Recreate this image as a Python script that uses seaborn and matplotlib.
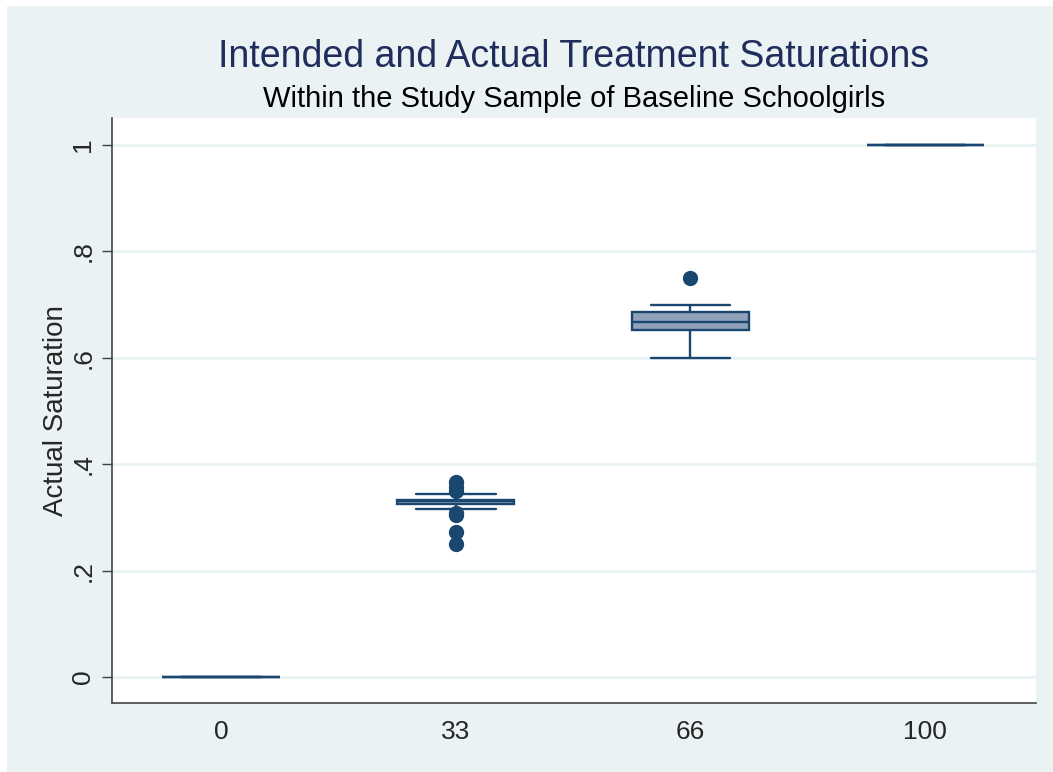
import numpy as np
import pandas as pd
import matplotlib
matplotlib.use("Agg")
import matplotlib.pyplot as plt
from matplotlib.patches import Rectangle
import seaborn as sns

# ==========================================
# data: actual saturation by intended saturation group
# ==========================================
groups = ["0", "33", "66", "100"]
sat_0 = [0.0, 0.0, 0.0, 0.0, 0.0]
sat_33 = [0.25, 0.273, 0.304, 0.309, 0.316, 0.326, 0.327, 0.329, 0.330, 0.331,
          0.331, 0.332, 0.333, 0.333, 0.3335, 0.3335, 0.338, 0.344, 0.35, 0.357, 0.366]
sat_66 = [0.60, 0.625, 0.643, 0.652, 0.66, 0.6667, 0.6667, 0.6667, 0.68, 0.6867,
          0.69, 0.70, 0.75]
sat_100 = [1.0, 1.0, 1.0, 1.0, 1.0]

yticks = [0, 0.2, 0.4, 0.6, 0.8, 1.0]
ytick_labels = ["0", ".2", ".4", ".6", ".8", "1"]

df = pd.DataFrame({
    "group": ["0"] * len(sat_0) + ["33"] * len(sat_33) + ["66"] * len(sat_66) + ["100"] * len(sat_100),
    "saturation": sat_0 + sat_33 + sat_66 + sat_100,
})

# ==========================================
# styling (Stata s2color look)
# ==========================================
BG = "#EAF2F3"
NAVY = "#1A476F"
FILL = "#8FA2B9"

sns.set_style("white")
plt.rcParams["font.family"] = ["Liberation Sans", "DejaVu Sans"]

fig = plt.figure(figsize=(10.53, 7.72), dpi=100, facecolor=BG)
# thin white strips on top and left edges
fig.patches.append(Rectangle((0, 1 - 6 / 772), 1, 6 / 772, transform=fig.transFigure,
                             facecolor="white", edgecolor="none", zorder=-10))
fig.patches.append(Rectangle((0, 0), 7 / 1053, 1, transform=fig.transFigure,
                             facecolor="white", edgecolor="none", zorder=-10))
ax = fig.add_axes([112 / 1053, 1 - 703 / 772, 924 / 1053, (703 - 118) / 772])
ax.set_facecolor("white")

for y in yticks:
    ax.axhline(y, color=BG, lw=2, zorder=0)

sns.boxplot(
    data=df, x="group", y="saturation", order=groups, ax=ax,
    width=0.5, color=FILL, saturation=1, linecolor=NAVY, linewidth=1.7,
    capwidths=0.34,
    flierprops=dict(marker="o", markersize=10, markerfacecolor=NAVY,
                    markeredgecolor=NAVY),
    medianprops=dict(color=NAVY, lw=1.7),
)

ax.set_xlim(-0.464, 3.472)
ax.set_ylim(-0.049, 1.051)
ax.set_yticks(yticks)
ax.set_yticklabels(ytick_labels, rotation=90, va="center", fontsize=19)
ax.tick_params(axis="y", length=7, width=1, color="#444444", pad=5, left=True)
ax.tick_params(axis="x", length=0, pad=12, labelsize=19)
ax.set_xlabel("")
ax.set_ylabel("Actual Saturation", fontsize=20)
ax.yaxis.set_label_coords(-0.047, 0.5)

for side in ["top", "right"]:
    ax.spines[side].set_visible(False)
for side in ["left", "bottom"]:
    ax.spines[side].set_color("#444444")
    ax.spines[side].set_linewidth(1.2)

xc = (112 + 1036) / 2 / 1053
fig.text(xc, 1 - 57 / 772, "Intended and Actual Treatment Saturations",
         ha="center", va="center", fontsize=27, color="#1E2D5C")
fig.text(xc, 1 - 99 / 772, "Within the Study Sample of Baseline Schoolgirls",
         ha="center", va="center", fontsize=21, color="black")

fig.savefig("out.png", dpi=100, facecolor=fig.get_facecolor())
